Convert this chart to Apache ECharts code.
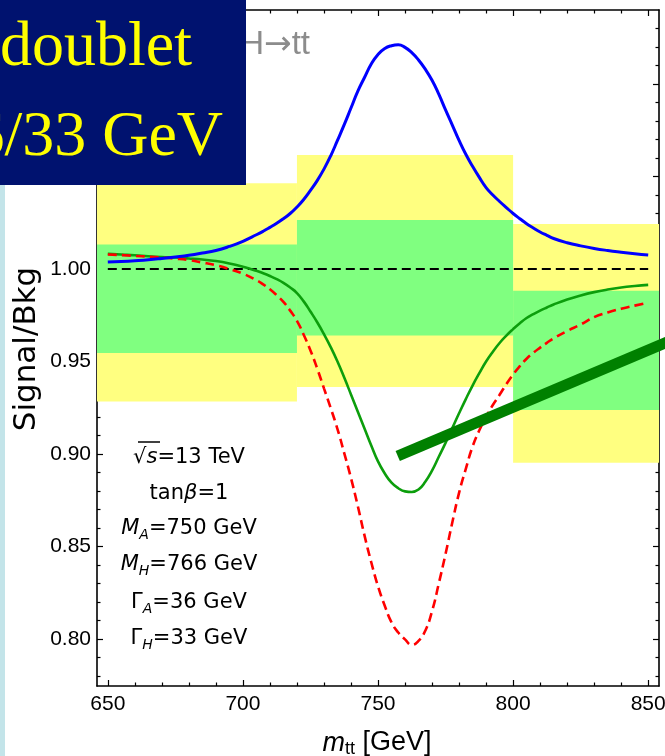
<!DOCTYPE html>
<html>
<head>
<meta charset="utf-8">
<script src="https://cdn.jsdelivr.net/npm/echarts@6/dist/echarts.min.js"></script>
<style>
  html, body { margin: 0; padding: 0; background: #ffffff; }
  #chart { width: 665px; height: 756px; }
</style>
</head>
<body>
<div id="chart"></div>
<script>
// Invariant mass grid (GeV), finer across the resonance region
const mtt = [650, 655, 660, 665, 670, 675, 680, 685, 690, 695, 700,
             705, 707.5, 710, 712.5, 715, 717.5, 720, 722.5, 725, 727.5,
             730, 732.5, 735, 737.5, 740, 742.5, 745, 747.5, 750, 752.5,
             755, 757.5, 760, 762.5, 765, 767.5, 770, 772.5, 775, 777.5,
             780, 782.5, 785, 787.5, 790, 792.5, 795, 797.5, 800, 802.5,
             805, 807.5, 810, 812.5, 815,
             820, 825, 830, 835, 840, 845, 850];

// Signal/Bkg ratio: resonance peak (blue)
const curvePeak = [1.0038, 1.0041, 1.0045, 1.0050, 1.0057, 1.0065, 1.0074, 1.0086, 1.0100, 1.0122, 1.0150,
                   1.0185, 1.0204, 1.0225, 1.0247, 1.0272, 1.0300, 1.0335, 1.0376, 1.0425, 1.0478,
                   1.0540, 1.0612, 1.0695, 1.0780, 1.0870, 1.0960, 1.1035, 1.1108, 1.1160, 1.1192,
                   1.1207, 1.1212, 1.1198, 1.1170, 1.1130, 1.1080, 1.1020, 1.0945, 1.0860, 1.0778,
                   1.0695, 1.0620, 1.0555, 1.0495, 1.0440, 1.0400, 1.0365, 1.0332, 1.0300, 1.0272,
                   1.0245, 1.0222, 1.0200, 1.0182, 1.0165,
                   1.0142, 1.0125, 1.0111, 1.0100, 1.0091, 1.0083, 1.0076];

// Signal/Bkg ratio: interference dip (green)
const curveDip = [1.0082, 1.0078, 1.0074, 1.0069, 1.0065, 1.0062, 1.0057, 1.0051, 1.0043, 1.0030, 1.0012,
                  0.9990, 0.9977, 0.9962, 0.9945, 0.9925, 0.9900, 0.9870, 0.9825, 0.9770, 0.9712,
                  0.9648, 0.9578, 0.9500, 0.9413, 0.9322, 0.9230, 0.9138, 0.9046, 0.8960, 0.8895,
                  0.8845, 0.8815, 0.8798, 0.8795, 0.8808, 0.8850, 0.8910, 0.8985, 0.9060, 0.9140,
                  0.9220, 0.9297, 0.9370, 0.9437, 0.9500, 0.9553, 0.9600, 0.9640, 0.9675, 0.9707,
                  0.9735, 0.9756, 0.9775, 0.9792, 0.9808,
                  0.9835, 0.9857, 0.9875, 0.9889, 0.9900, 0.9908, 0.9914];

// Signal/Bkg ratio: deep dip (red, dashed)
const curveDeepDip = [1.0078, 1.0075, 1.0071, 1.0067, 1.0062, 1.0056, 1.0048, 1.0035, 1.0020, 1.0000, 0.9975,
                      0.9940, 0.9917, 0.9890, 0.9858, 0.9822, 0.9775, 0.9720, 0.9645, 0.9560, 0.9462,
                      0.9355, 0.9248, 0.9135, 0.9005, 0.8870, 0.8720, 0.8560, 0.8415, 0.8285, 0.8180,
                      0.8090, 0.8035, 0.7998, 0.7968, 0.7990, 0.8045, 0.8150, 0.8300, 0.8460, 0.8630,
                      0.8790, 0.8920, 0.9040, 0.9128, 0.9200, 0.9265, 0.9320, 0.9378, 0.9430, 0.9475,
                      0.9515, 0.9547, 0.9575, 0.9601, 0.9625,
                      0.9665, 0.9700, 0.9740, 0.9765, 0.9785, 0.9802, 0.9818];

// Reference level (SM expectation)
const refX = [650, 850];
const refLevel = [1.0, 1.0];

// Binned uncertainty bands
const binLow = [640, 720, 800];
const binHigh = [720, 800, 880];
const band1Lo = [0.9546, 0.9640, 0.9238];
const band1Hi = [1.0133, 1.0265, 0.9883];
const band2Lo = [0.9284, 0.9362, 0.8953];
const band2Hi = [1.0464, 1.0616, 1.0243];

// Trend stroke
const trendX = [757.3, 857.0];
const trendY = [0.8989, 0.9605];

// Tick positions
const xMajor = [650, 700, 750, 800, 850];
const xMinor = [660, 670, 680, 690, 710, 720, 730, 740, 760, 770, 780, 790, 810, 820, 830, 840];
const yMajor = [0.80, 0.85, 0.90, 0.95, 1.00, 1.05, 1.10];
const yMinor = [0.78, 0.79, 0.81, 0.82, 0.83, 0.84, 0.86, 0.87, 0.88, 0.89,
                0.91, 0.92, 0.93, 0.94, 0.96, 0.97, 0.98, 0.99, 1.01, 1.02,
                1.03, 1.04, 1.06, 1.07, 1.08, 1.09, 1.11, 1.12, 1.13];

const X_MIN = 646, X_MAX = 854, Y_MIN = 0.7746, Y_MAX = 1.140;

const zip = (xs, ys) => xs.map((x, i) => [x, ys[i]]);

const chart = echarts.init(document.getElementById('chart'), null, { renderer: 'canvas' });

const sansT = 'Liberation Sans';
const sansW = 'DejaVu Sans';

function xAx(position, ticks, len, showLabel, showLine) {
  return {
    type: 'value', min: X_MIN, max: X_MAX, position: position,
    axisLine: { show: showLine, onZero: false, lineStyle: { color: '#000', width: 1.6 } },
    axisTick: { show: true, inside: true, length: len, customValues: ticks, lineStyle: { color: '#000', width: 1.2 } },
    axisLabel: { show: showLabel, customValues: ticks, color: '#000', fontSize: 21, fontFamily: sansT, margin: 8 },
    splitLine: { show: false }, minorTick: { show: false }
  };
}
function yAx(position, ticks, len, showLabel, showLine) {
  return {
    type: 'value', min: Y_MIN, max: Y_MAX, position: position,
    axisLine: { show: showLine, onZero: false, lineStyle: { color: '#000', width: 1.6 } },
    axisTick: { show: true, inside: true, length: len, customValues: ticks, lineStyle: { color: '#000', width: 1.2 } },
    axisLabel: { show: showLabel, customValues: ticks, color: '#000', fontSize: 21, fontFamily: sansT, margin: 6,
                 formatter: v => v.toFixed(2) },
    splitLine: { show: false }, minorTick: { show: false }
  };
}

function bandSeries(lo, hi, color, z) {
  return {
    type: 'custom', z: z, silent: true, clip: true,
    renderItem: (params, api) => {
      const p0 = api.coord([api.value(0), api.value(3)]);
      const p1 = api.coord([api.value(1), api.value(2)]);
      const rect = echarts.graphic.clipRectByRect(
        { x: p0[0], y: p0[1], width: p1[0] - p0[0], height: p1[1] - p0[1] },
        { x: params.coordSys.x, y: params.coordSys.y, width: params.coordSys.width, height: params.coordSys.height });
      return rect && { type: 'rect', shape: rect, style: { fill: color } };
    },
    encode: { x: [0, 1], y: [2, 3] },
    data: binLow.map((b, i) => [b, binHigh[i], lo[i], hi[i]])
  };
}

const subStyle = { fontSize: 14, fontFamily: sansW, fontStyle: 'italic', padding: [12, 0, 0, 0], lineHeight: 14, fill: '#000' };
const itStyle = { fontSize: 21, fontFamily: sansW, fontStyle: 'italic', fill: '#000' };
const sqStyle = { fontSize: 21, fontFamily: sansW, fill: '#000' };

function infoLine(txt, y) {
  return {
    type: 'text', x: 189, y: y, z: 50,
    style: { text: txt, align: 'center', verticalAlign: 'middle', fontSize: 21, fontFamily: sansW, fill: '#000',
             rich: { it: itStyle, sub: subStyle, sq: sqStyle } }
  };
}

const option = {
  animation: false,
  backgroundColor: '#ffffff',
  grid: { left: 97, right: 6, top: 10, bottom: 70, outerBoundsMode: 'none' },
  xAxis: [
    xAx('bottom', xMajor, 6, true, true),
    xAx('bottom', xMinor, 3.5, false, false),
    xAx('top', xMajor, 6, false, true),
    xAx('top', xMinor, 3.5, false, false)
  ],
  yAxis: [
    yAx('left', yMajor, 6, true, true),
    yAx('left', yMinor, 3.5, false, false),
    yAx('right', yMajor, 6, false, true),
    yAx('right', yMinor, 3.5, false, false)
  ],
  series: [
    bandSeries(band2Lo, band2Hi, '#FFFF80', 1),
    bandSeries(band1Lo, band1Hi, '#80FF80', 1),
    {
      type: 'line', z: 2, silent: true, symbol: 'none',
      data: zip(refX, refLevel),
      lineStyle: { color: '#000', width: 2, type: [9, 5] }
    },
    {
      type: 'line', z: 3, silent: true, symbol: 'none', smooth: 0.5,
      data: zip(mtt, curveDip),
      lineStyle: { color: '#0C9E0C', width: 2.6 }
    },
    {
      type: 'line', z: 4, silent: true, symbol: 'none', smooth: 0.5,
      data: zip(mtt, curveDeepDip),
      lineStyle: { color: '#FF0000', width: 2.6, type: [9, 5] }
    },
    {
      type: 'line', z: 5, silent: true, symbol: 'none', smooth: 0.5,
      data: zip(mtt, curvePeak),
      lineStyle: { color: '#0000FF', width: 3 }
    },
    {
      type: 'line', z: 6, silent: true, symbol: 'none', clip: false,
      data: zip(trendX, trendY),
      lineStyle: { color: '#008000', width: 11, cap: 'butt' }
    }
  ],
  graphic: [
    // process label (partly hidden behind the title box)
    { type: 'text', x: 310, y: 45, z: 40,
      style: { text: '{a|A/H}{r|\u2192}{a|tt}', align: 'right', verticalAlign: 'middle', fontSize: 33, fontFamily: sansT, fill: '#8C8C8C',
               rich: { a: { fontSize: 33, fontFamily: sansT, fill: '#8C8C8C' },
                       r: { fontSize: 33, fontFamily: sansW, fill: '#8C8C8C' } } } },
    // axis titles
    { type: 'text', x: 27, y: 349, rotation: Math.PI / 2, z: 40,
      style: { text: 'Signal/Bkg', align: 'center', verticalAlign: 'middle', fontSize: 31, fontFamily: sansW, fill: '#000' } },
    { type: 'text', x: 377, y: 743, z: 40,
      style: { text: '{m|m}{tt|tt} [GeV]', align: 'center', verticalAlign: 'middle', fontSize: 27, fontFamily: sansT, fill: '#000',
               rich: { m: { fontSize: 27, fontFamily: sansT, fontStyle: 'italic', fill: '#000' },
                       tt: { fontSize: 18, fontFamily: sansT, fill: '#000', padding: [12, 0, 0, 0], lineHeight: 18 } } } },
    // parameter block
    infoLine('{sq|\u221A}{it|s}=13 TeV', 458),
    { type: 'line', z: 50, shape: { x1: 138, y1: 442, x2: 160, y2: 442 }, style: { stroke: '#000', lineWidth: 1.5 } },
    infoLine('tan{it|\u03B2}=1', 494),
    infoLine('{it|M}{sub|A}=750 GeV', 529),
    infoLine('{it|M}{sub|H}=766 GeV', 565),
    infoLine('\u0393{sub|A}=36 GeV', 603),
    infoLine('\u0393{sub|H}=33 GeV', 639),
    // page strip and title box
    { type: 'rect', z: 100, shape: { x: 0, y: 0, width: 5, height: 756 }, style: { fill: '#C3E4E9' } },
    { type: 'rect', z: 101, shape: { x: 0, y: 0, width: 246, height: 185 }, style: { fill: '#00126F' } },
    { type: 'text', x: 192, y: 48, z: 102,
      style: { text: 'doublet', align: 'right', verticalAlign: 'middle', fontSize: 64, fontFamily: 'Liberation Serif', fill: '#FFFF00' } },
    { type: 'text', x: 223, y: 138, z: 102,
      style: { text: '36/33 GeV', align: 'right', verticalAlign: 'middle', fontSize: 64, fontFamily: 'Liberation Serif', fill: '#FFFF00' } }
  ]
};

chart.setOption(option);
</script>
</body>
</html>
